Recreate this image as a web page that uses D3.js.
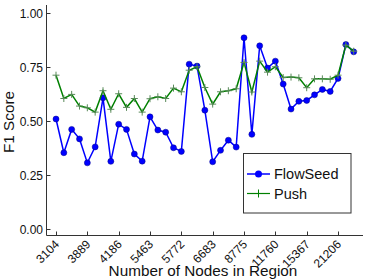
<!DOCTYPE html>
<html><head><meta charset="utf-8">
<script src="https://cdn.jsdelivr.net/npm/d3@7"></script>
<style>
html,body{margin:0;padding:0;background:#fff;}
svg{display:block;font-family:"Liberation Sans",Arial,Helvetica,sans-serif;}
</style></head>
<body>
<svg id="chart" width="374" height="280"></svg>
<script>
const tickLabels = ["3104","3889","4186","5463","5772","6683","8775","11760","15367","21206"];
const tickIndex = [0,4,8,12,16,20,24,28,32,36];
const yTicks = [0, 0.25, 0.5, 0.75, 1.0];
const flowSeed = [0.511,0.355,0.463,0.419,0.308,0.382,0.609,0.315,0.487,0.463,
  0.349,0.316,0.521,0.460,0.450,0.378,0.361,0.765,0.756,0.552,
  0.313,0.366,0.413,0.381,0.887,0.440,0.850,0.747,0.779,0.673,
  0.557,0.593,0.597,0.623,0.648,0.639,0.699,0.856,0.822];
const push = [0.714,0.606,0.625,0.571,0.563,0.543,0.642,0.556,0.628,0.565,
  0.606,0.543,0.605,0.614,0.606,0.654,0.637,0.737,0.753,0.657,
  0.580,0.637,0.642,0.651,0.773,0.636,0.779,0.728,0.753,0.703,
  0.705,0.702,0.656,0.697,0.697,0.695,0.714,0.853,0.825];
const seriesNames = ["FlowSeed","Push"];

const svg = d3.select("#chart");
const x = d3.scaleLinear().domain([0, 38]).range([56, 353.7]);
const y = d3.scaleLinear().domain([0, 1]).range([229.4, 13.4]);
const axisColor = "#333";
const blue = "#0000ff", green = "#008000";

// spines
svg.append("line").attr("x1",46.5).attr("x2",46.5).attr("y1",5).attr("y2",235.5)
  .attr("stroke",axisColor).attr("stroke-width",1);
svg.append("line").attr("x1",46.5).attr("x2",363).attr("y1",235.5).attr("y2",235.5)
  .attr("stroke",axisColor).attr("stroke-width",1);

// y ticks (inward)
yTicks.forEach(t => {
  const yy = Math.round(y(t)) + 0.5;
  svg.append("line").attr("x1",46.5).attr("x2",50.5).attr("y1",yy).attr("y2",yy)
    .attr("stroke",axisColor);
  svg.append("text").attr("x",43).attr("y",y(t)).attr("dy","0.36em")
    .attr("text-anchor","end").attr("font-size","12px").attr("fill","#111")
    .text(d3.format(".2f")(t));
});
// x ticks (inward)
tickIndex.forEach((ti, k) => {
  const xx = Math.round(x(ti)) + 0.5;
  svg.append("line").attr("x1",xx).attr("x2",xx).attr("y1",235.5).attr("y2",231.5)
    .attr("stroke",axisColor);
  svg.append("text").attr("transform",`translate(${x(ti)+4},245) rotate(-45)`)
    .attr("text-anchor","end").attr("font-size","12px").attr("fill","#111")
    .text(tickLabels[k]);
});

// axis labels
svg.append("text").attr("x",203).attr("y",276).attr("text-anchor","middle")
  .attr("font-size","15.3px").attr("fill","#111").text("Number of Nodes in Region");
svg.append("text").attr("transform","translate(14,122) rotate(-90)").attr("text-anchor","middle")
  .attr("font-size","15.3px").attr("fill","#111").text("F1 Score");

const line = d3.line().x((d,i)=>x(i)).y(d=>y(d));
// FlowSeed
svg.append("path").datum(flowSeed).attr("d",line).attr("fill","none")
  .attr("stroke",blue).attr("stroke-width",1.5);
svg.selectAll("circle.fs").data(flowSeed).enter().append("circle").attr("class","fs")
  .attr("cx",(d,i)=>x(i)).attr("cy",d=>y(d)).attr("r",3).attr("fill",blue).attr("stroke","#00008a").attr("stroke-width",0.5);
// Push
svg.append("path").datum(push).attr("d",line).attr("fill","none")
  .attr("stroke",green).attr("stroke-width",1.5);
push.forEach((d,i) => {
  const cx = x(i), cy = y(d);
  svg.append("path").attr("d",`M${cx-3.5},${cy}H${cx+3.5}M${cx},${cy-3.5}V${cy+3.5}`)
    .attr("stroke","#5a8a5a").attr("stroke-width",1);
});

// legend
const lg = svg.append("g");
lg.append("rect").attr("x",243.5).attr("y",153.5).attr("width",107.5).attr("height",59.5)
  .attr("fill","#fff").attr("stroke",axisColor).attr("stroke-width",1);
lg.append("line").attr("x1",247).attr("x2",270).attr("y1",174).attr("y2",174)
  .attr("stroke",blue).attr("stroke-width",1.5);
lg.append("circle").attr("cx",258.5).attr("cy",174).attr("r",3.5).attr("fill",blue);
lg.append("line").attr("x1",247).attr("x2",270).attr("y1",193.5).attr("y2",193.5)
  .attr("stroke",green).attr("stroke-width",1.2);
lg.append("path").attr("d","M258.5,189.5V197.5").attr("stroke",green).attr("stroke-width",1);
lg.append("text").attr("x",274).attr("y",179).attr("font-size","14.5px").attr("fill","#111").text(seriesNames[0]);
lg.append("text").attr("x",274).attr("y",198.5).attr("font-size","14.5px").attr("fill","#111").text(seriesNames[1]);
</script>
</body></html>
